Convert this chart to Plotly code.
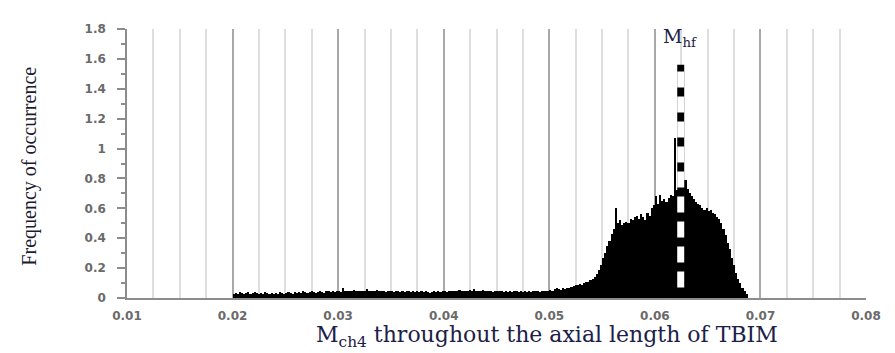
import plotly.graph_objects as go

# Histogram bins: start 0.0200, width 0.0002
bin_start = 0.0200
bin_width = 0.0002
freq = [
    0.03, 0.035, 0.03, 0.04, 0.035, 0.03, 0.035, 0.04, 0.03, 0.035,
    0.04, 0.035, 0.03, 0.035, 0.03, 0.04, 0.035, 0.03, 0.035, 0.03,
    0.035, 0.03, 0.04, 0.035, 0.03, 0.035, 0.04, 0.035, 0.03, 0.04,
    0.035, 0.04, 0.035, 0.045, 0.04, 0.035, 0.04, 0.045, 0.04, 0.035,
    0.04, 0.045, 0.04, 0.035, 0.045, 0.05, 0.04, 0.045, 0.04, 0.05,
    0.045, 0.04, 0.065, 0.05, 0.045, 0.05, 0.045, 0.055, 0.045, 0.05,
    0.05, 0.045, 0.05, 0.06, 0.045, 0.05, 0.045, 0.05, 0.055, 0.045,
    0.05, 0.045, 0.04, 0.045, 0.05, 0.045, 0.04, 0.05, 0.045, 0.04,
    0.045, 0.04, 0.045, 0.05, 0.04, 0.045, 0.04, 0.045, 0.04, 0.045,
    0.04, 0.045, 0.04, 0.035, 0.04, 0.045, 0.04, 0.045, 0.04, 0.045,
    0.045, 0.04, 0.05, 0.045, 0.05, 0.045, 0.05, 0.055, 0.045, 0.05,
    0.05, 0.045, 0.055, 0.05, 0.06, 0.05, 0.045, 0.05, 0.055, 0.05,
    0.045, 0.05, 0.045, 0.04, 0.05, 0.045, 0.05, 0.045, 0.04, 0.045,
    0.04, 0.045, 0.04, 0.045, 0.05, 0.04, 0.045, 0.04, 0.045, 0.04,
    0.045, 0.04, 0.045, 0.05, 0.045, 0.04, 0.045, 0.05, 0.045, 0.05,
    0.055, 0.05, 0.06, 0.065, 0.06, 0.055, 0.065, 0.06, 0.065, 0.07,
    0.075, 0.08, 0.085, 0.09, 0.095, 0.09, 0.1, 0.11, 0.105, 0.12,
    0.13, 0.14, 0.16, 0.19, 0.22, 0.27, 0.3, 0.35, 0.38, 0.43,
    0.46, 0.6, 0.5, 0.52, 0.49, 0.5, 0.51, 0.5, 0.53, 0.52,
    0.54, 0.55, 0.53, 0.56, 0.54, 0.52, 0.57, 0.55, 0.6, 0.62,
    0.68, 0.63, 0.69, 0.65, 0.66, 0.64, 0.67, 0.69, 0.68, 1.07,
    0.72, 0.73, 0.74, 0.76, 0.79, 0.73, 0.7, 0.68, 0.66, 0.64,
    0.63, 0.62, 0.6, 0.59, 0.6, 0.58, 0.59, 0.57, 0.56, 0.54,
    0.53, 0.5, 0.46, 0.42, 0.37, 0.33, 0.27, 0.22, 0.17, 0.13,
    0.1, 0.07, 0.05, 0.03,
]

m_hf = 0.06245
m_hf_line_top = 1.56
m_hf_dash_top = 1.515
m_hf_dash_bottom = 0.065

x_tick_vals = [0.01, 0.02, 0.03, 0.04, 0.05, 0.06, 0.07, 0.08]
x_tick_text = ["0.01", "0.02", "0.03", "0.04", "0.05", "0.06", "0.07", "0.08"]
y_tick_vals = [0, 0.2, 0.4, 0.6, 0.8, 1.0, 1.2, 1.4, 1.6, 1.8]
y_tick_text = ["0", "0.2", "0.4", "0.6", "0.8", "1", "1.2", "1.4", "1.6", "1.8"]

fig = go.Figure()
fig.add_trace(go.Bar(
    x0=bin_start + bin_width / 2, dx=bin_width, y=freq, width=bin_width,
    marker=dict(color="black", line=dict(width=0)),
    showlegend=False, hoverinfo="skip",
))

# M_hf dashed marker: black line with white dashes on top
fig.add_trace(go.Scatter(
    x=[m_hf, m_hf], y=[0, m_hf_line_top], mode="lines",
    line=dict(color="black", width=7), showlegend=False, hoverinfo="skip",
))
fig.add_trace(go.Scatter(
    x=[m_hf, m_hf], y=[m_hf_dash_top, m_hf_dash_bottom], mode="lines",
    line=dict(color="white", width=7, dash="16px,9px"), showlegend=False, hoverinfo="skip",
))

tick_font = dict(family="DejaVu Sans", size=12, color="#6a6a6a", weight="bold")

# page body has an 8px default margin, so the figure is sized to fit the window
fig.update_layout(
    width=887, height=345,
    margin=dict(l=119, r=29, t=21, b=55),
    paper_bgcolor="white", plot_bgcolor="white",
    bargap=0,
    xaxis=dict(
        range=[0.01, 0.08], tickvals=x_tick_vals, ticktext=x_tick_text,
        showgrid=True, gridcolor="#a8a8a8", gridwidth=2,
        minor=dict(dtick=0.0025, showgrid=True, gridcolor="#dedede", gridwidth=2),
        showline=True, linecolor="#8c8c8c", linewidth=1.5,
        ticks="", tickfont=tick_font, ticklabelstandoff=6,
        zeroline=False, mirror=False,
    ),
    yaxis=dict(
        range=[0, 1.8], tickvals=y_tick_vals, ticktext=y_tick_text,
        showgrid=False, zeroline=False,
        showline=True, linecolor="#8c8c8c", linewidth=1.5,
        ticks="outside", ticklen=8, tickcolor="#8c8c8c", tickwidth=1.5,
        minor=dict(dtick=0.1, ticks="outside", ticklen=4, tickcolor="#8c8c8c", showgrid=False),
        tickfont=tick_font, ticklabelstandoff=9,
    ),
    annotations=[
        dict(text="M<sub>hf</sub>", x=m_hf - 0.0001, y=1.745, xref="x", yref="y",
             xanchor="center", yanchor="middle", showarrow=False,
             font=dict(family="DejaVu Serif", size=19, color="#1c2048")),
        dict(text="M<sub>ch4</sub> throughout the axial length of TBIM",
             x=0.568, y=-0.203, xref="paper", yref="paper",
             xanchor="center", yanchor="bottom", showarrow=False,
             font=dict(family="DejaVu Serif", size=22, color="#1c2048")),
        dict(text="Frequency of occurrence", x=-0.132, y=0.49, xref="paper", yref="paper",
             xanchor="center", yanchor="middle", showarrow=False, textangle=-90,
             font=dict(family="Liberation Serif, Times New Roman", size=20, color="#1a1a30")),
    ],
)

fig.write_html("out.html")
